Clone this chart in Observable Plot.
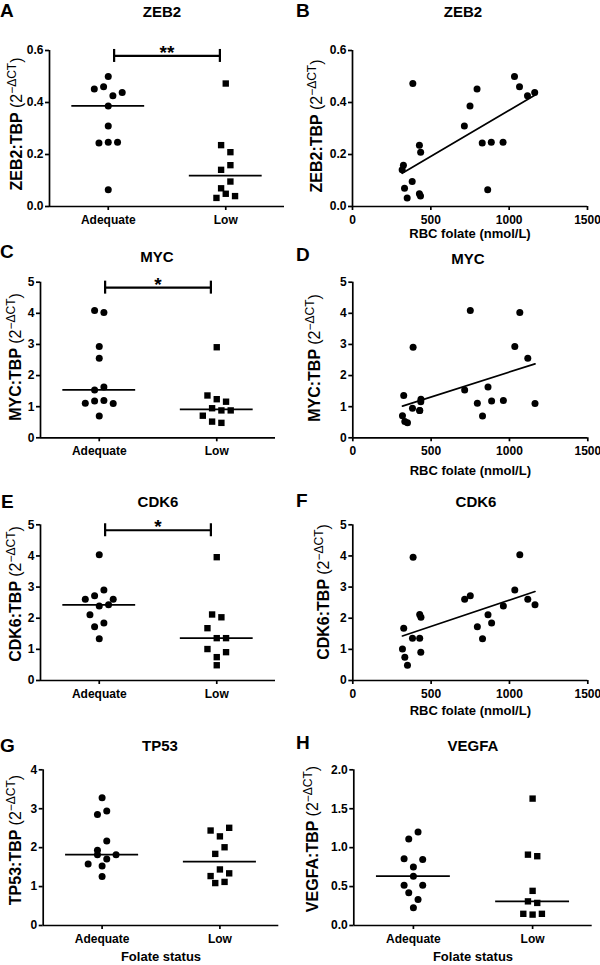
<!DOCTYPE html>
<html>
<head>
<meta charset="utf-8">
<script src="https://cdn.jsdelivr.net/npm/d3@7"></script>
<script src="https://cdn.jsdelivr.net/npm/@observablehq/plot@0.6"></script>
<style>
html,body{margin:0;padding:0;background:#fff;}
#fig{position:relative;width:600px;height:965px;overflow:hidden;font-family:"Liberation Sans",Arial,Helvetica,sans-serif;color:#000;}
.panel{position:absolute;width:300px;}
.panel svg{display:block;}
.letter{position:absolute;font-weight:bold;font-size:19px;line-height:1;}
.title{position:absolute;font-weight:bold;font-size:15px;line-height:1;white-space:nowrap;transform:translateX(-50%);}
.ylab{position:absolute;font-weight:bold;font-size:16px;line-height:1;white-space:nowrap;transform:translate(-50%,-50%) rotate(-90deg);}
.ylab .u{font-weight:normal;}
.ylab sup{font-size:12px;vertical-align:baseline;position:relative;top:-0.5em;}
</style>
</head>
<body>
<div id="fig"></div>
<script>
// ---------------- data ----------------
const groups = ["Adequate", "Low"];
// RBC folate (nmol/L) per subject, same subject order as the gene arrays below
const folateAdequate = [714, 750, 795, 828, 863, 886, 961, 1034, 1066, 1117, 1163];
const folateLow = [317, 325, 332, 349, 381, 385, 427, 435, 427, 434];

const zeb2Adequate = [0.310, 0.387, 0.452, 0.244, 0.064, 0.247, 0.247, 0.500, 0.461, 0.426, 0.438];
const zeb2Low = [0.141, 0.159, 0.070, 0.033, 0.096, 0.473, 0.236, 0.209, 0.049, 0.040];
const mycAdequate = [1.54, 4.09, 1.11, 0.70, 1.63, 1.18, 1.20, 2.93, 4.03, 2.56, 1.10];
const mycLow = [0.71, 1.36, 0.52, 0.48, 0.95, 2.91, 0.88, 1.24, 0.88, 1.16];
const cdk6Adequate = [2.61, 2.72, 1.73, 1.34, 2.11, 1.85, 2.39, 2.91, 4.04, 2.61, 2.43];
const cdk6Low = [1.01, 1.68, 0.75, 0.49, 1.36, 3.96, 2.12, 2.03, 1.36, 0.91];
const tp53Adequate = [3.28, 2.85, 2.94, 1.93, 2.17, 1.58, 1.82, 1.53, 1.26, 1.71, 1.82];
const tp53Low = [2.44, 2.29, 2.51, 1.84, 2.01, 1.27, 1.44, 1.34, 1.09, 1.12];
const vegfaAdequate = [1.11, 1.20, 0.857, 0.75, 0.848, 0.518, 0.634, 0.518, 0.42, 0.334, 0.227];
const vegfaLow = [1.63, 0.91, 0.89, 0.445, 0.31, 0.29, 0.15, 0.14, 0.15];

const ticksZeb2 = [0, 0.2, 0.4, 0.6];
const ticks5 = [0, 1, 2, 3, 4, 5];
const ticks4 = [0, 1, 2, 3, 4];
const ticksVegfa = [0, 0.5, 1.0, 1.5, 2.0];
const folateTicks = [0, 500, 1000, 1500];

const sigZeb2 = "**";
const sigMyc = "*";
const sigCdk6 = "*";

const xLabelScatter = "RBC folate (nmol/L)";
const xLabelCat = "Folate status";

// ---------------- layout ----------------
const panels = [
  {letter:"A", title:"ZEB2", gene:"ZEB2", kind:"cat", a:zeb2Adequate, l:zeb2Low, yMax:0.6, ticks:ticksZeb2, fmt:".1f", sig:sigZeb2,
   left:0, top:0, height:245, ml:49, mr:16, mt:50, mb:39, lx:0, lb:17, tx:162, tb:17, yx:17, yy:124},
  {letter:"B", title:"ZEB2", gene:"ZEB2", kind:"sc", a:zeb2Adequate, l:zeb2Low, yMax:0.6, ticks:ticksZeb2, fmt:".1f",
   left:300, top:0, height:245, ml:52, mr:13, mt:50, mb:39, lx:296, lb:17, tx:463, tb:17, yx:317, yy:126, xl:xLabelScatter, xlb:31},
  {letter:"C", title:"MYC", gene:"MYC", kind:"cat", a:mycAdequate, l:mycLow, yMax:5, ticks:ticks5, fmt:"d", sig:sigMyc,
   left:0, top:245, height:245, ml:40, mr:25, mt:36.7, mb:52.7, lx:0, lb:258, tx:157, tb:262, yx:16, yy:357},
  {letter:"D", title:"MYC", gene:"MYC", kind:"sc", a:mycAdequate, l:mycLow, yMax:5, ticks:ticks5, fmt:"d",
   left:300, top:245, height:245, ml:52.3, mr:12.7, mt:36.7, mb:52.7, lx:296, lb:261, tx:468, tb:264, yx:315, yy:358, xl:xLabelScatter, xlb:37},
  {letter:"E", title:"CDK6", gene:"CDK6", kind:"cat", a:cdk6Adequate, l:cdk6Low, yMax:5, ticks:ticks5, fmt:"d", sig:sigCdk6,
   left:0, top:490, height:245, ml:40, mr:25, mt:34.3, mb:55, lx:1, lb:508, tx:158, tb:507, yx:16, yy:594},
  {letter:"F", title:"CDK6", gene:"CDK6", kind:"sc", a:cdk6Adequate, l:cdk6Low, yMax:5, ticks:ticks5, fmt:"d",
   left:300, top:490, height:245, ml:52.3, mr:12.7, mt:34.3, mb:55, lx:296, lb:507, tx:476, tb:507, yx:324, yy:592, xl:xLabelScatter, xlb:34},
  {letter:"G", title:"TP53", gene:"TP53", kind:"cat", a:tp53Adequate, l:tp53Low, yMax:4, ticks:ticks4, fmt:"d",
   left:0, top:735, height:230, ml:42.7, mr:21.7, mt:34.3, mb:40, lx:0, lb:752, tx:160, tb:751, yx:16, yy:840, xl:xLabelCat, xlb:35},
  {letter:"H", title:"VEGFA", gene:"VEGFA", kind:"cat", a:vegfaAdequate, l:vegfaLow, yMax:2, ticks:ticksVegfa, fmt:".1f",
   left:300, top:735, height:230, ml:53.3, mr:8.3, mt:34.3, mb:40, lx:296, lb:749, tx:473, tb:751, yx:313, yy:839, xl:xLabelCat, xlb:35}
];

const STEP = 9.3;     // px between neighbouring points in a row
const ROW = 10;       // px height of a row of points
const LW = 1.7;

function beeswarm(vals, pxPerUnit, thresh) {
  const order = d3.range(vals.length).sort((a, b) => d3.descending(vals[a], vals[b]) || a - b);
  const off = new Array(vals.length).fill(0);
  let grp = [], start = null;
  const flush = () => {
    grp.sort((a, b) => a - b).forEach((k, j) => off[k] = j - (grp.length - 1) / 2);
    grp = [];
  };
  for (const i of order) {
    if (grp.length && (vals[start] - vals[i]) * pxPerUnit >= thresh) flush();
    if (!grp.length) start = i;
    grp.push(i);
  }
  flush();
  return off;
}

const fig = document.getElementById("fig");
function addDiv(cls, html, x, y) {
  const d = document.createElement("div");
  d.className = cls;
  d.innerHTML = html;
  d.style.left = x + "px";
  d.style.top = y + "px";
  fig.appendChild(d);
  return d;
}

const axisCommon = {tickSize: 4, strokeWidth: LW, fontSize: 12, fontWeight: "bold", label: null};

for (const p of panels) {
  const fw = 300 - p.ml - p.mr;
  const fh = p.height - p.mt - p.mb;
  const yPx = fh / p.yMax;
  const marks = [];
  let xOpts;
  if (p.kind === "cat") {
    const xPx = fw / 2;
    xOpts = {domain: [0, 2]};
    const ptsA = [], ptsL = [];
    [[p.a, ptsA], [p.l, ptsL]].forEach(([vals, arr], gi) => {
      const off = beeswarm(vals, yPx, ROW);
      vals.forEach((v, i) => arr.push({x: gi + 0.5 + off[i] * STEP / xPx, y: v}));
    });
    const meds = [p.a, p.l].map((vals, gi) => ({c: gi + 0.5, m: d3.median(vals)}));
    marks.push(
      Plot.axisX({...axisCommon, ticks: [0.5, 1.5], tickFormat: d => groups[d < 1 ? 0 : 1], tickPadding: 5}),
      Plot.ruleY(meds, {x1: d => d.c - 0.31, x2: d => d.c + 0.31, y: "m", stroke: "black", strokeWidth: LW}),
      Plot.dot(ptsA, {x: "x", y: "y", r: 3.5, fill: "black", symbol: "circle"}),
      Plot.dot(ptsL, {x: "x", y: "y", r: 3.6, fill: "black", symbol: "square"})
    );
    if (p.sig) {
      const level = 0.965 * p.yMax;
      const half = 6.5 / yPx;
      marks.push(
        Plot.ruleY([level], {x1: 0.55, x2: 1.45, stroke: "black", strokeWidth: 2.2}),
        Plot.ruleX([0.55, 1.45], {y1: level - half, y2: level + half, stroke: "black", strokeWidth: 2.2}),
        Plot.text([p.sig], {x: 1, y: level, text: d => d, lineAnchor: "bottom", dy: 3, fontSize: 19, fontWeight: "bold"})
      );
    }
  } else {
    xOpts = {domain: [0, 1500]};
    const pts = [
      ...folateAdequate.map((f, i) => ({x: f, y: p.a[i]})),
      ...folateLow.map((f, i) => ({x: f, y: p.l[i]}))
    ];
    marks.push(
      Plot.axisX({...axisCommon, ticks: folateTicks, tickFormat: d3.format("d"), tickPadding: 5}),
      Plot.linearRegressionY(pts, {x: "x", y: "y", ci: 0, stroke: "black", strokeWidth: LW}),
      Plot.dot(pts, {x: "x", y: "y", r: 3.5, fill: "black"})
    );
  }
  if (p.xl) {
    marks.push(Plot.text([p.xl], {frameAnchor: "bottom", text: d => d, lineAnchor: "bottom", dy: p.xlb, fontSize: 13, fontWeight: "bold"}));
  }
  marks.unshift(
    Plot.ruleY([0], {stroke: "black", strokeWidth: LW}),
    Plot.ruleX([0], {stroke: "black", strokeWidth: LW}),
    Plot.axisY({...axisCommon, ticks: p.ticks, tickFormat: d3.format(p.fmt), tickPadding: 2})
  );
  const svg = Plot.plot({
    width: 300, height: p.height,
    marginLeft: p.ml, marginRight: p.mr, marginTop: p.mt, marginBottom: p.mb,
    x: xOpts, y: {domain: [0, p.yMax]},
    style: {fontFamily: '"Liberation Sans", Arial, sans-serif', background: "transparent", color: "black", overflow: "visible"},
    marks
  });
  const wrap = document.createElement("div");
  wrap.className = "panel";
  wrap.style.left = p.left + "px";
  wrap.style.top = p.top + "px";
  wrap.appendChild(svg);
  fig.appendChild(wrap);

  addDiv("letter", p.letter, p.lx, p.lb - 0.8465 * 19);
  addDiv("title", p.title, p.tx, p.tb - 0.8465 * 15);
  addDiv("ylab", `${p.gene}:TBP <span class="u">(2<sup>\u2212\u0394CT</sup>)</span>`, p.yx, p.yy);
}
</script>
</body>
</html>
